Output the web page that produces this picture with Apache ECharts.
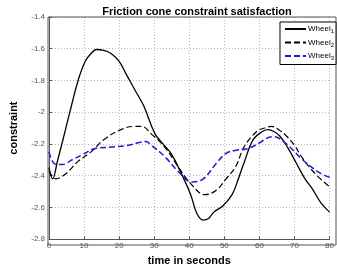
<!DOCTYPE html>
<html>
<head>
<meta charset="utf-8">
<script src="https://cdn.jsdelivr.net/npm/echarts@6/dist/echarts.min.js"></script>
<style>
html,body{margin:0;padding:0;background:#fff;}
#main{width:337px;height:271px;}
</style>
</head>
<body>
<div id="main"></div>
<script>
// 数据：时间（秒）与约束值
var wheel1X = [0, 1, 2.5, 4.7, 6.5, 8.3, 10.3, 12, 13.5, 15.5, 17.7, 20, 22, 24.5, 27, 30.2, 32.5, 34.8, 37.6, 40.4, 42.2, 44, 45.5, 47, 49.6, 52.2, 54, 55.6, 58.3, 61, 62.5, 64, 65.8, 68, 70.5, 73, 75, 77.5, 80];
var wheel1Y = [-2.35, -2.42, -2.3, -2.11, -1.95, -1.8, -1.68, -1.63, -1.605, -1.61, -1.63, -1.68, -1.76, -1.86, -1.96, -2.135, -2.2, -2.26, -2.38, -2.52, -2.64, -2.68, -2.67, -2.63, -2.59, -2.52, -2.42, -2.32, -2.17, -2.12, -2.11, -2.12, -2.15, -2.22, -2.32, -2.42, -2.48, -2.57, -2.63];
var wheel2X = [0, 2, 4.7, 8.3, 12, 15.8, 20.5, 24.2, 26.4, 29.3, 33, 36.7, 40.4, 44.5, 47.8, 50.5, 53.3, 55.6, 59.3, 61.5, 63.5, 65.5, 67.7, 70, 72.3, 76, 80];
var wheel2Y = [-2.37, -2.42, -2.39, -2.31, -2.25, -2.17, -2.11, -2.09, -2.09, -2.14, -2.22, -2.34, -2.45, -2.52, -2.49, -2.42, -2.34, -2.22, -2.12, -2.1, -2.09, -2.11, -2.15, -2.21, -2.29, -2.39, -2.47];
var wheel3X = [0, 1, 2, 3.8, 6.6, 9.4, 13, 17.7, 22.2, 26, 27.5, 29.3, 33, 36.7, 40.8, 44, 47.8, 50.5, 53.3, 56.6, 60.3, 62, 64, 67.7, 72.3, 77, 80];
var wheel3Y = [-2.25, -2.31, -2.33, -2.33, -2.3, -2.27, -2.23, -2.22, -2.21, -2.19, -2.185, -2.21, -2.28, -2.37, -2.44, -2.42, -2.32, -2.26, -2.24, -2.23, -2.19, -2.165, -2.155, -2.2, -2.3, -2.38, -2.41];
var xTicks = [0, 10, 20, 30, 40, 50, 60, 70, 80];
var yTicks = [-2.8, -2.6, -2.4, -2.2, -2, -1.8, -1.6, -1.4];
var seriesNames = ['Wheel1', 'Wheel2', 'Wheel3'];

function pairs(xs, ys){
    var out = [];
    for (var i = 0; i < xs.length; i++) {
        out.push([xs[i], ys[i]]);
    }
    return out;
}

var myChart = echarts.init(document.getElementById('main'));
var option = {
    backgroundColor: '#fff',
    animation: false,
    textStyle: {fontFamily: 'Liberation Sans, Arial, sans-serif'},
    title: {
        text: 'Friction cone constraint satisfaction',
        left: 192,
        textAlign: 'center',
        top: 1,
        textStyle: {fontSize: 11, fontWeight: 'bold', color: '#000'}
    },
    legend: {
        right: 1,
        top: 22,
        orient: 'vertical',
        backgroundColor: '#fff',
        borderColor: '#000',
        borderWidth: 1,
        borderRadius: 0,
        padding: [3, 2, 3, 4],
        itemWidth: 21,
        itemHeight: 8,
        itemGap: 4,
        data: seriesNames,
        itemStyle: {color: 'rgba(0,0,0,0)', borderWidth: 0},
        formatter: function(name){
            return '{a|Wheel}{b|' + name.slice(5) + '}';
        },
        textStyle: {
            color: '#000',
            padding: [0, 0, 0, -3],
            rich: {
                a: {fontSize: 8, color: '#000'},
                b: {fontSize: 6, color: '#000', padding: [5, 0, 0, 0]}
            }
        }
    },
    grid: {left: 48, right: 1, top: 17, bottom: 26},
    xAxis: {
        type: 'value',
        min: 0,
        max: 80,
        interval: 10,
        name: 'time in seconds',
        nameLocation: 'middle',
        nameGap: 11,
        nameTextStyle: {fontSize: 11, fontWeight: 'bold', color: '#000'},
        axisLine: {onZero: false, lineStyle: {color: '#555'}},
        axisTick: {inside: true, length: 3, lineStyle: {color: '#555'}},
        axisLabel: {fontSize: 8, color: '#555', margin: 3},
        splitLine: {show: true, lineStyle: {color: '#bbb', type: [1, 2]}}
    },
    yAxis: {
        type: 'value',
        min: -2.8,
        max: -1.4,
        interval: 0.2,
        name: 'constraint',
        nameLocation: 'middle',
        nameGap: 30,
        nameTextStyle: {fontSize: 11, fontWeight: 'bold', color: '#000'},
        axisLine: {show: true, onZero: false, lineStyle: {color: '#555'}},
        axisTick: {show: true, inside: true, length: 3, lineStyle: {color: '#555'}},
        axisLabel: {
            fontSize: 8, color: '#555', margin: 4,
            formatter: function(v){ return String(Math.round(v * 10) / 10); }
        },
        splitLine: {show: true, lineStyle: {color: '#bbb', type: [1, 2]}}
    },
    series: [{
        name: seriesNames[0],
        type: 'line',
        smooth: 0.4,
        showSymbol: false,
        symbol: 'none',
        data: pairs(wheel1X, wheel1Y),
        itemStyle: {color: '#000'},
        lineStyle: {color: '#000', width: 1.3, type: 'solid'}
    },{
        name: seriesNames[1],
        type: 'line',
        smooth: 0.4,
        showSymbol: false,
        symbol: 'none',
        data: pairs(wheel2X, wheel2Y),
        itemStyle: {color: '#000'},
        lineStyle: {color: '#000', width: 1.2, type: [6, 3]}
    },{
        name: seriesNames[2],
        type: 'line',
        smooth: 0.4,
        showSymbol: false,
        symbol: 'none',
        data: pairs(wheel3X, wheel3Y),
        itemStyle: {color: '#1a1adb'},
        lineStyle: {color: '#1a1adb', width: 1.5, type: [6, 3]}
    }]
};
myChart.setOption(option);
// 右侧和顶部边框
myChart.setOption({
    graphic: [{
        type: 'rect',
        shape: {x: 48, y: 17, width: 288, height: 228},
        style: {fill: 'none', stroke: '#555', lineWidth: 1},
        silent: true,
        z: 0
    }]
});
</script>
</body>
</html>
